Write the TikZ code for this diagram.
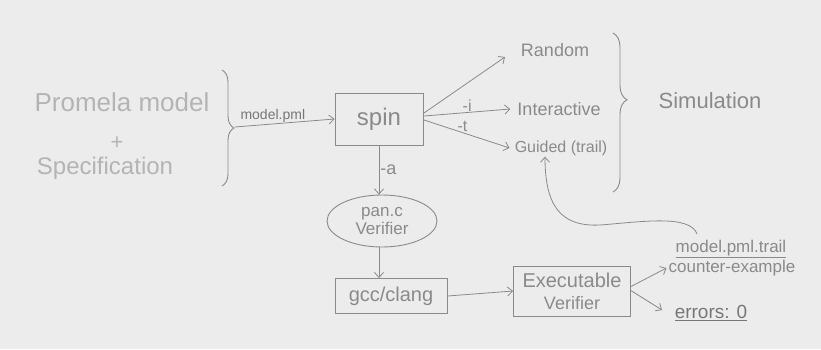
\documentclass[tikz,border=0pt]{standalone}
\usepackage{fontspec}
\setmainfont{Liberation Sans}
\usetikzlibrary{arrows.meta,decorations.pathreplacing,shapes.geometric}
\definecolor{paper}{HTML}{ECECEC}
\definecolor{ink}{HTML}{8A8A8A}
\definecolor{dark}{HTML}{777777}
\definecolor{faint}{HTML}{B4B4B4}
\begin{document}
\begin{tikzpicture}[x=1pt,y=-1pt,
  txt/.style={text=ink, inner sep=1pt},
  big/.style={text=faint, inner sep=1pt},
  boxn/.style={draw=ink, line width=0.9pt, inner sep=0pt, text=ink, align=center},
  arr/.style={draw=ink, line width=0.8pt, -{Straight Barb[length=5pt,width=9pt]}},
  brc/.style={draw=ink, line width=0.9pt, decorate},
  fs/.style={font=\fontsize{#1}{#1}\selectfont}]
\fill[paper] (0,0) rectangle (821,349);
\useasboundingbox (0,0) rectangle (821,349);

% left input
\node[big, fs=26] (promela) at (122,102) {Promela model};
\node[big, fs=22] (plus) at (117,143) {+};
\node[big, fs=24] (spec) at (105,168) {Specification};
\coordinate (lbtop) at (222,70);
\coordinate (lbbot) at (222,186);
\draw[brc, decoration={brace, amplitude=12pt}] (lbtop) -- (lbbot);
\coordinate (lbtip) at (235,127);

% spin
\node[boxn, minimum width=88pt, minimum height=52pt, fs=24] (spin) at (379,119) {spin};
\draw[arr] (lbtip) -- node[txt, text=dark, fs=14, above, pos=0.38] (pml) {model.pml} (spin.west);

% simulation modes
\node[txt, fs=18] (random) at (555,50) {Random};
\node[txt, fs=18] (inter) at (559,109) {Interactive};
\node[txt, fs=16] (guided) at (561,148) {Guided (trail)};
\coordinate (s1) at (424,113);
\coordinate (s2) at (424,116);
\coordinate (s3) at (424,120);
\draw[arr] (s1) -- (505,57);
\draw[arr] (s2) -- node[txt, fs=16, above, pos=0.5] (li) {-i} ([xshift=-6pt]inter.west);
\draw[arr] (s3) -- node[txt, fs=16, above, pos=0.45] (lt) {-t} ([xshift=-4pt]guided.west);

\coordinate (rbtop) at (613,33);
\coordinate (rbbot) at (613,192);
\draw[brc, decoration={brace, amplitude=14pt, aspect=0.42}] (rbtop) -- (rbbot);
\node[txt, fs=22] (sim) at (710,101) {Simulation};

% verifier chain
\node[boxn, ellipse, minimum width=110pt, minimum height=52pt, fs=17] (pan) at (382,221) {pan.c\\[1pt]Verifier};
\draw[arr] (spin.south) -- node[txt, fs=18, right] (la) {-a} (spin.south |- pan.north);
\node[boxn, minimum width=112pt, minimum height=35pt, fs=20] (gcc) at (391,296) {gcc/clang};
\draw[arr] (pan.south -| spin.south) -- (spin.south |- gcc.north);
\node[boxn, minimum width=117pt, minimum height=50pt, fs=20] (exe) at (572,291) {Executable\\[2pt]{\fontsize{18}{18}\selectfont Verifier}};
\draw[arr] (gcc.east) -- (exe.west);

% outputs
\node[txt, fs=17] (trail) at (731,249) {\underline{model.pml.trail}};
\node[txt, fs=17] (cex) at (732,268) {counter-example};
\node[txt, text=dark, fs=19] (err) at (711,313) {\underline{errors: 0}};
\coordinate (e1) at (630,287);
\coordinate (e2) at (630,290);
\draw[arr] (e1) -- ([xshift=-1pt]cex.west);
\draw[arr] (e2) -- (662,310);

% feedback curve
\coordinate (fb) at (697,234);
\draw[arr] (fb) .. controls (690,214) and (640,222) .. (600,225)
  .. controls (560,227) and (545,205) .. (guided.south -| 545,0);
\end{tikzpicture}
\end{document}
